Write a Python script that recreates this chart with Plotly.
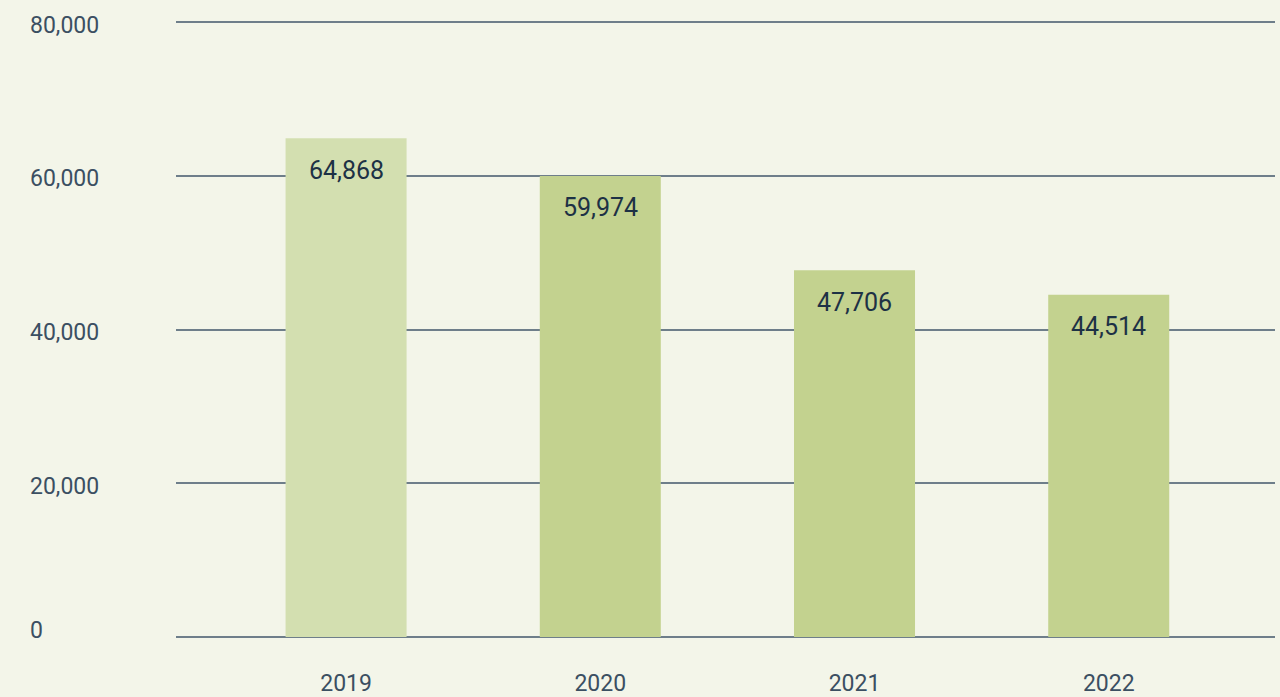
import plotly.graph_objects as go

years = ["2019", "2020", "2021", "2022"]
values = [64868, 59974, 47706, 44514]
bar_colors = ["#d3dfb0", "#c3d28f", "#c3d28f", "#c3d28f"]
y_ticks = [0, 20000, 40000, 60000, 80000]
y_tick_labels = ["0", "20,000", "40,000", "60,000", "80,000"]

fig = go.Figure()
fig.add_trace(go.Bar(
    x=years, y=values, marker=dict(color=bar_colors, line=dict(width=0)),
    width=0.476, hoverinfo="skip",
))

for i, v in enumerate(values):
    fig.add_annotation(x=i, y=v, xref="x", yref="y", text=f"{v:,}", showarrow=False,
                       yanchor="middle", yshift=-32,
                       font=dict(family="Roboto", size=25, color="#1d3145"))

for t, lab in zip(y_ticks, y_tick_labels):
    fig.add_annotation(x=-148/1099, y=t, xref="paper", yref="y", text=lab, showarrow=False,
                       xanchor="left", yanchor="middle", yshift=-3 if t else 7,
                       font=dict(family="Roboto", size=23, color="#3b4f62"))

fig.update_layout(
    width=1280, height=697,
    margin=dict(l=176, r=5, t=14, b=60, autoexpand=False),
    paper_bgcolor="#f3f5e9", plot_bgcolor="#f3f5e9",
    showlegend=False,
    xaxis=dict(type="category", range=[-0.669, 3.654], showgrid=False, zeroline=False,
               showline=False, ticks="", ticklabelstandoff=30, automargin=False,
               tickfont=dict(family="Roboto", size=23, color="#3b4f62")),
    yaxis=dict(range=[0, 81040], tickvals=y_ticks, showticklabels=False, automargin=False,
               showgrid=True, gridcolor="#6e7e8a", gridwidth=1.5,
               zeroline=True, zerolinecolor="#6e7e8a", zerolinewidth=1.5,
               showline=False, ticks=""),
)

fig.write_html("out.html", config={"displayModeBar": False},
               post_script="document.body.style.margin='0';")
